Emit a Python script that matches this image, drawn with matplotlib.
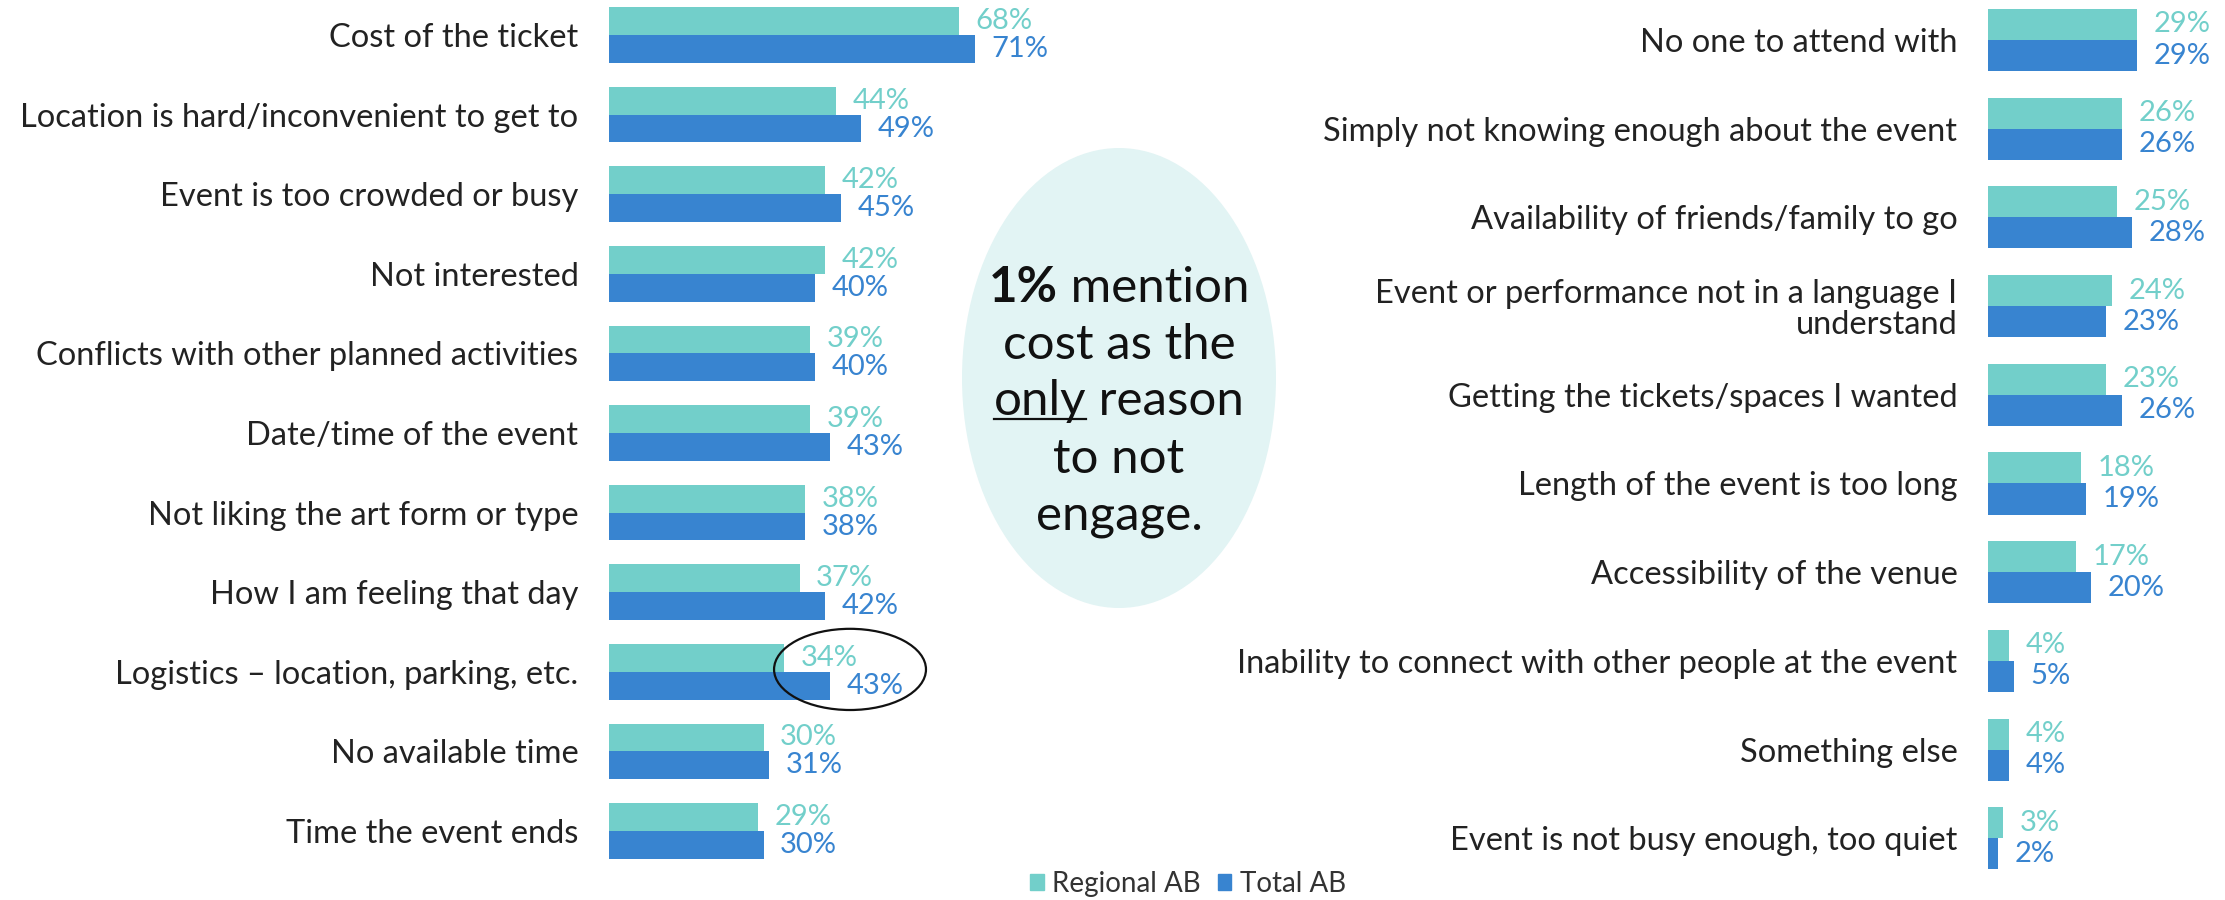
import matplotlib
matplotlib.use("Agg")
import matplotlib.pyplot as plt
from matplotlib.patches import Ellipse, Patch
import numpy as np

plt.rcParams['font.family'] = ['Lato', 'DejaVu Sans']

# data
left_labels = ["Cost of the ticket", "Location is hard/inconvenient to get to",
               "Event is too crowded or busy", "Not interested",
               "Conflicts with other planned activities", "Date/time of the event",
               "Not liking the art form or type", "How I am feeling that day",
               "Logistics \u2013 location, parking, etc.", "No available time",
               "Time the event ends"]
left_regional = [68, 44, 42, 42, 39, 39, 38, 37, 34, 30, 29]
left_total = [71, 49, 45, 40, 40, 43, 38, 42, 43, 31, 30]

right_labels = ["No one to attend with", "Simply not knowing enough about the event",
                "Availability of friends/family to go",
                "Event or performance not in a language I\nunderstand",
                "Getting the tickets/spaces I wanted", "Length of the event is too long",
                "Accessibility of the venue",
                "Inability to connect with other people at the event",
                "Something else", "Event is not busy enough, too quiet"]
right_regional = [29, 26, 25, 24, 23, 18, 17, 4, 4, 3]
right_total = [29, 26, 28, 23, 26, 19, 20, 5, 4, 2]

series = ["Regional AB", "Total AB"]

TEAL = "#72CFCA"
BLUE = "#3884D0"
TXT = "#222222"

W, H = 2225, 900
fig = plt.figure(figsize=(W / 100, H / 100), dpi=100)

# overlay in pixel units for the callout
over = fig.add_axes([0, 0, 1, 1], zorder=0)
over.set_xlim(0, W)
over.set_ylim(H, 0)
over.axis("off")


def bar_panel(rect, labels, reg, tot, xmax):
    ax = fig.add_axes(rect, zorder=2)
    ax.set_facecolor("none")
    y = np.arange(len(labels))
    h = 0.35
    ax.barh(y - h / 2, reg, height=h, color=TEAL)
    ax.barh(y + h / 2, tot, height=h, color=BLUE)
    for i in range(len(labels)):
        ax.annotate(f"{reg[i]}%", (reg[i], y[i] - h / 2), xytext=(12, 0),
                    textcoords="offset points", va="center", ha="left",
                    color=TEAL, fontsize=21)
        ax.annotate(f"{tot[i]}%", (tot[i], y[i] + h / 2), xytext=(12, 0),
                    textcoords="offset points", va="center", ha="left",
                    color=BLUE, fontsize=21)
    ax.set_xlim(0, xmax)
    ax.set_ylim(len(labels) - 0.5, -0.5)
    ax.set_yticks(y)
    ax.set_yticklabels(labels, fontsize=23.5, color=TXT, ha="right",
                       linespacing=1.05)
    ax.tick_params(axis="y", length=0, pad=22)
    ax.set_xticks([])
    for s in ax.spines.values():
        s.set_visible(False)
    return ax


# left panel: rows centred at 35 + 79.6*i px, 5.15 px per percent
lx0, lrow, lc0 = 609, 79.6, 35
ltop = lc0 - 0.5 * lrow
lbot = lc0 + 10.5 * lrow
axL = bar_panel([lx0 / W, 1 - lbot / H, 100 * 5.15 / W, (lbot - ltop) / H],
                left_labels, left_regional, left_total, 100)

rx0, rrow, rc0 = 1988, 88.7, 40
rtop = rc0 - 0.5 * rrow
rbot = rc0 + 9.5 * rrow
axR = bar_panel([rx0 / W, 1 - rbot / H, 45 * 5.15 / W, (rbot - rtop) / H],
                right_labels, right_regional, right_total, 45)

# circle around the logistics values
axL.add_patch(Ellipse((46.8, 7.97), 29.5, 1.02, fill=False, edgecolor="#111111",
                      lw=1.6, clip_on=False, zorder=5))

# callout bubble
over.add_patch(Ellipse((1119, 378), 314, 460, facecolor="#E2F4F4", edgecolor="none"))

callout = [
    [("1%", "bold", False), (" mention", "normal", False)],
    [("cost as the", "normal", False)],
    [("only", "normal", True), (" reason", "normal", False)],
    [("to not", "normal", False)],
    [("engage.", "normal", False)],
]
baselines = [302, 359, 415, 473, 530]
fig.canvas.draw()
rend = fig.canvas.get_renderer()
for parts, yb in zip(callout, baselines):
    objs = []
    for s, wgt, ul in parts:
        t = over.text(0, yb, s, fontsize=35.5, fontweight=wgt, color="#111111",
                      ha="left", va="baseline")
        objs.append(t)
    widths = [t.get_window_extent(rend).width for t in objs]
    x = 1119 - sum(widths) / 2
    for t, w, (s, wgt, ul) in zip(objs, widths, parts):
        t.set_x(x)
        if ul:
            over.plot([x, x + w], [yb + 4, yb + 4], color="#111111", lw=1.6)
        x += w

fig.legend(handles=[Patch(color=TEAL, label=series[0]), Patch(color=BLUE, label=series[1])],
           loc="center", bbox_to_anchor=(1188 / W, 1 - 884 / H), ncol=2, frameon=False,
           fontsize=20, handlelength=0.5, handleheight=0.5, handletextpad=0.3,
           columnspacing=0.6, labelcolor="#333333")

fig.savefig("out.png", dpi=100)
